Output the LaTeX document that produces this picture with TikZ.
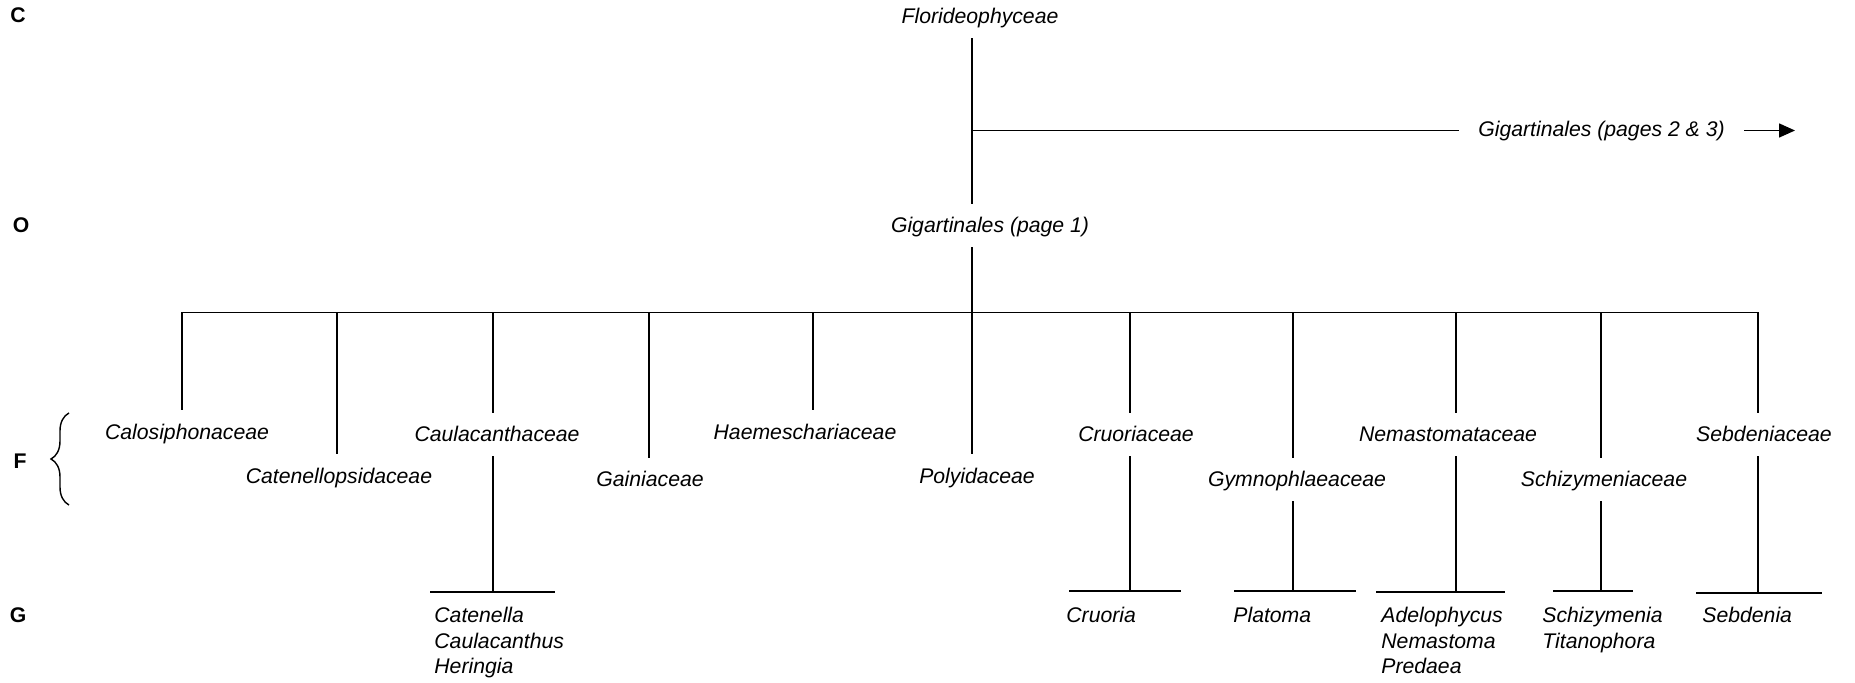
\documentclass[tikz,border=0pt]{standalone}
\usepackage{fontspec}
\setmainfont{Liberation Sans}
\usetikzlibrary{decorations.pathreplacing,arrows.meta}
\begin{document}
\begin{tikzpicture}[x=0.5pt,y=-0.5pt,
  lbl/.style={font=\fontsize{10.6}{12.75}\selectfont\itshape, anchor=base, inner xsep=0pt, inner ysep=5.5pt, text height=9pt, text depth=1.5pt},
  gen/.style={font=\fontsize{10.6}{12.75}\selectfont\itshape, anchor=north west, inner sep=0pt, align=left},
  rank/.style={font=\fontsize{10.6}{12.75}\selectfont\bfseries, anchor=base},
  ln/.style={line width=0.75pt},
  gbar/.style={line width=1pt},
  ]
\useasboundingbox (0,0) rectangle (1855,683);

% rank letters
\node[rank] (rc) at (18,23) {C};
\node[rank] (ro) at (21,233) {O};
\node[rank] (rf) at (20,468) {F};
\node[rank] (rg) at (18,622) {G};
\draw[decorate, decoration={brace, amplitude=9pt}, line width=0.7pt] (69,505) -- (69,413);

% class and orders
\node[lbl] (flor) at (980,24) {Florideophyceae};
\node[lbl] (gig1) at (990,233) {Gigartinales (page 1)};
\node[lbl, inner xsep=9.5pt] (gig23) at (1601.5,137) {Gigartinales (pages 2 \& 3)};
\coordinate (jn) at (972,130.5);
\coordinate (arr) at (1795,130.5);
\coordinate (bm) at (972,312.5);
\draw[ln] (jn |- flor.south) -- (jn |- gig1.north);
\draw[ln] (jn) -- (gig23.west |- jn);
\draw[ln, -{Triangle[length=8pt,width=7pt]}] (gig23.east |- jn) -- (arr);
\draw[ln] (jn |- gig1.south) -- (bm);

% family bar
\coordinate (bl) at (182,312.5);
\coordinate (br) at (1758,312.5);
\draw[ln] (bl) -- (br);

\coordinate (t1) at (182,312.5);
\coordinate (t2) at (337,312.5);
\coordinate (t3) at (493,312.5);
\coordinate (t4) at (649,312.5);
\coordinate (t5) at (813,312.5);
\coordinate (t6) at (972,312.5);
\coordinate (t7) at (1130,312.5);
\coordinate (t8) at (1293,312.5);
\coordinate (t9) at (1456,312.5);
\coordinate (t10) at (1601,312.5);
\coordinate (t11) at (1758,312.5);

\node[lbl] (f1) at (187,439) {Calosiphonaceae};
\node[lbl] (f2) at (339,483) {Catenellopsidaceae};
\node[lbl] (f3) at (497,442) {Caulacanthaceae};
\node[lbl] (f4) at (650,487) {Gainiaceae};
\node[lbl] (f5) at (805,439) {Haemeschariaceae};
\node[lbl] (f6) at (977,483) {Polyidaceae};
\node[lbl] (f7) at (1136,442) {Cruoriaceae};
\node[lbl] (f8) at (1297,487) {Gymnophlaeaceae};
\node[lbl] (f9) at (1448,442) {Nemastomataceae};
\node[lbl] (f10) at (1604,487) {Schizymeniaceae};
\node[lbl] (f11) at (1764,442) {Sebdeniaceae};

\foreach \i in {1,...,11} {
  \draw[ln] (t\i) -- (t\i |- f\i.north);
}

% genus bars
\coordinate (g3) at (493,592);   \coordinate (g3l) at (430,592);  \coordinate (g3r) at (555,592);
\coordinate (g7) at (1130,591);  \coordinate (g7l) at (1069,591); \coordinate (g7r) at (1181,591);
\coordinate (g8) at (1293,591);  \coordinate (g8l) at (1234,591); \coordinate (g8r) at (1356,591);
\coordinate (g9) at (1456,592);  \coordinate (g9l) at (1376,592); \coordinate (g9r) at (1505,592);
\coordinate (g10) at (1601,591); \coordinate (g10l) at (1553,591); \coordinate (g10r) at (1633,591);
\coordinate (g11) at (1758,593); \coordinate (g11l) at (1696,593); \coordinate (g11r) at (1822,593);

\foreach \i in {3,7,8,9,10,11} {
  \draw[ln] (t\i |- f\i.south) -- (g\i);
  \draw[gbar] (g\i l) -- (g\i r);
}

\node[gen] (n3) at (434,607) {Catenella\\Caulacanthus\\Heringia};
\node[gen] (n7) at (1066,607) {Cruoria};
\node[gen] (n8) at (1233,607) {Platoma};
\node[gen] (n9) at (1381,607) {Adelophycus\\Nemastoma\\Predaea};
\node[gen] (n10) at (1542,607) {Schizymenia\\Titanophora};
\node[gen] (n11) at (1702,607) {Sebdenia};
\end{tikzpicture}
\end{document}
